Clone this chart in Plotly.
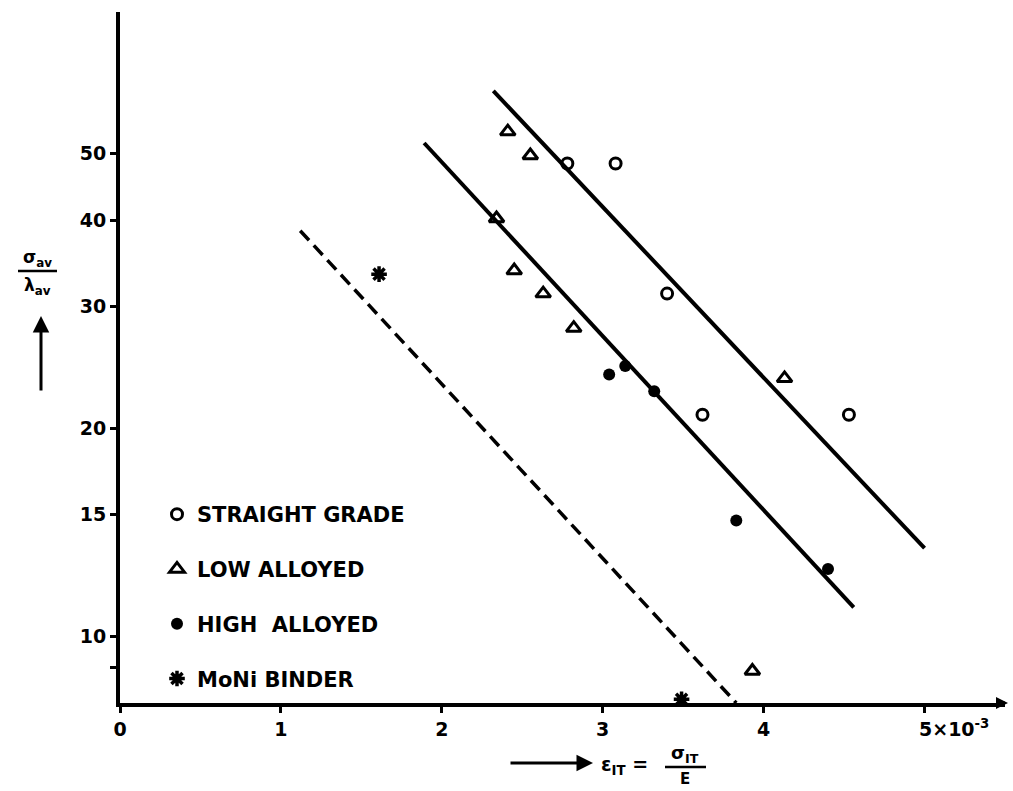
import plotly.graph_objects as go

# ---- data ----
straight_x = [2.78, 3.08, 3.40, 3.62, 4.53]
straight_y = [48.3, 48.3, 31.3, 20.9, 20.9]
low_x = [2.41, 2.55, 2.34, 2.45, 2.63, 2.82, 4.13, 3.93]
low_y = [53.7, 49.6, 40.2, 33.8, 31.3, 27.9, 23.6, 8.9]
high_x = [3.04, 3.14, 3.32, 3.83, 4.40]
high_y = [23.9, 24.6, 22.6, 14.7, 12.5]
moni_x = [1.61, 3.49]
moni_y = [33.4, 8.1]
upper_fit_x = [2.32, 5.00]
upper_fit_y = [61.5, 13.4]
middle_fit_x = [1.89, 4.56]
middle_fit_y = [51.7, 11.0]
dashed_fit_x = [1.12, 3.83]
dashed_fit_y = [38.6, 8.0]

y_tickvals = [9, 10, 15, 20, 30, 40, 50]
y_ticktext = ["", "10", "15", "20", "30", "40", "50"]
x_tickvals = [0, 1, 2, 3, 4, 5]
x_ticktext = ["0", "1", "2", "3", "4", ""]

FONT = "DejaVu Sans"
W, H = 1013, 791
L, R, T, B = 120, 8, 12, 88
PW, PH = W - L - R, H - T - B


def px_x(p):
    return (p - L) / PW


def px_y(p):
    return (H - B - p) / PH


fig = go.Figure()

fig.add_trace(go.Scatter(x=upper_fit_x, y=upper_fit_y, mode="lines",
                         line=dict(color="black", width=4), showlegend=False))
fig.add_trace(go.Scatter(x=middle_fit_x, y=middle_fit_y, mode="lines",
                         line=dict(color="black", width=4), showlegend=False))
fig.add_trace(go.Scatter(x=dashed_fit_x, y=dashed_fit_y, mode="lines",
                         line=dict(color="black", width=3.5, dash="13px,7px"),
                         showlegend=False))

fig.add_trace(go.Scatter(x=straight_x, y=straight_y, mode="markers", name="STRAIGHT GRADE",
                         legendgroup="a",
                         marker=dict(symbol="circle-open", size=11, color="black",
                                     line=dict(width=3, color="black"))))
fig.add_trace(go.Scatter(x=low_x, y=low_y, mode="markers", name="LOW ALLOYED",
                         legendgroup="b",
                         marker=dict(symbol="triangle-up-open", size=13, color="black",
                                     line=dict(width=3, color="black"))))
fig.add_trace(go.Scatter(x=high_x, y=high_y, mode="markers", name="HIGH  ALLOYED",
                         legendgroup="c",
                         marker=dict(symbol="circle", size=12, color="black")))
fig.add_trace(go.Scatter(x=moni_x, y=moni_y, mode="markers", name="MoNi BINDER",
                         legendgroup="d", cliponaxis=False,
                         marker=dict(symbol="asterisk-open", size=13, color="black",
                                     line=dict(width=3.5, color="black"))))

fig.update_layout(
    width=W, height=H,
    margin=dict(l=L, r=R, t=T, b=B),
    paper_bgcolor="white", plot_bgcolor="white",
    font=dict(family=FONT, color="black"),
    showlegend=True,
    legend=dict(x=px_x(157), y=px_y(494), xanchor="left", yanchor="top",
                traceorder="grouped", tracegroupgap=24.5,
                bgcolor="rgba(0,0,0,0)",
                font=dict(family=FONT, size=21, weight="bold", color="black")),
    xaxis=dict(range=[0, 5.5], showgrid=False, zeroline=False,
               showline=True, linecolor="black", linewidth=4,
               ticks="outside", ticklen=6, tickwidth=3, tickcolor="black",
               tickvals=x_tickvals, ticktext=x_ticktext,
               tickfont=dict(family=FONT, size=19, weight="bold"),
               ticklabelstandoff=0),
    yaxis=dict(type="log", range=[0.90309, 1.90309], showgrid=False, zeroline=False,
               showline=True, linecolor="black", linewidth=4,
               ticks="outside", ticklen=6, tickwidth=3, tickcolor="black",
               tickvals=y_tickvals, ticktext=y_ticktext,
               tickfont=dict(family=FONT, size=19, weight="bold")),
)

ann = []
# x tick label 5x10^-3
ann.append(dict(x=5, y=px_y(728), xref="x", yref="paper", xanchor="left", yanchor="middle",
                xshift=-8, showarrow=False,
                text="5×10<sup>-3</sup>",
                font=dict(family=FONT, size=19, weight="bold")))
# y-axis title: sigma_av / lambda_av with an upward arrow
ann.append(dict(x=px_x(37), y=px_y(258), xref="paper", yref="paper", showarrow=False,
                xanchor="center", yanchor="middle",
                text="σ<sub>av</sub>", font=dict(family=FONT, size=17, weight="bold")))
ann.append(dict(x=px_x(37), y=px_y(286), xref="paper", yref="paper", showarrow=False,
                xanchor="center", yanchor="middle",
                text="λ<sub>av</sub>", font=dict(family=FONT, size=17, weight="bold")))
ann.append(dict(x=px_x(41), y=px_y(316), xref="paper", yref="paper", text="",
                showarrow=True, arrowhead=2, arrowsize=1.1, arrowwidth=3,
                arrowcolor="black", ax=0, ay=76))
# x-axis title: -> eps_IT = sigma_IT / E
ann.append(dict(x=px_x(593), y=px_y(763), xref="paper", yref="paper", text="",
                showarrow=True, arrowhead=2, arrowsize=1.1, arrowwidth=3,
                arrowcolor="black", ax=-84, ay=0))
ann.append(dict(x=px_x(599), y=px_y(766), xref="paper", yref="paper",
                xanchor="left", yanchor="middle", showarrow=False,
                text="ε<sub>IT</sub> =", font=dict(family=FONT, size=19, weight="bold")))
ann.append(dict(x=px_x(685), y=px_y(754), xref="paper", yref="paper", showarrow=False,
                xanchor="center", yanchor="middle",
                text="σ<sub>IT</sub>", font=dict(family=FONT, size=18, weight="bold")))
ann.append(dict(x=px_x(685), y=px_y(779), xref="paper", yref="paper", showarrow=False,
                xanchor="center", yanchor="middle",
                text="E", font=dict(family=FONT, size=15, weight="bold")))
# small arrowhead at the end of the x axis
ann.append(dict(x=px_x(1008), y=px_y(703), xref="paper", yref="paper", text="",
                showarrow=True, arrowhead=2, arrowsize=0.8, arrowwidth=3,
                arrowcolor="black", ax=-12, ay=0))
fig.update_layout(annotations=ann)

fig.update_layout(shapes=[
    dict(type="line", xref="paper", yref="paper",
         x0=px_x(18), x1=px_x(57), y0=px_y(271), y1=px_y(271),
         line=dict(color="black", width=2.5)),
    dict(type="line", xref="paper", yref="paper",
         x0=px_x(665), x1=px_x(706), y0=px_y(767), y1=px_y(767),
         line=dict(color="black", width=2.5)),
])

fig.write_html("out.html")
